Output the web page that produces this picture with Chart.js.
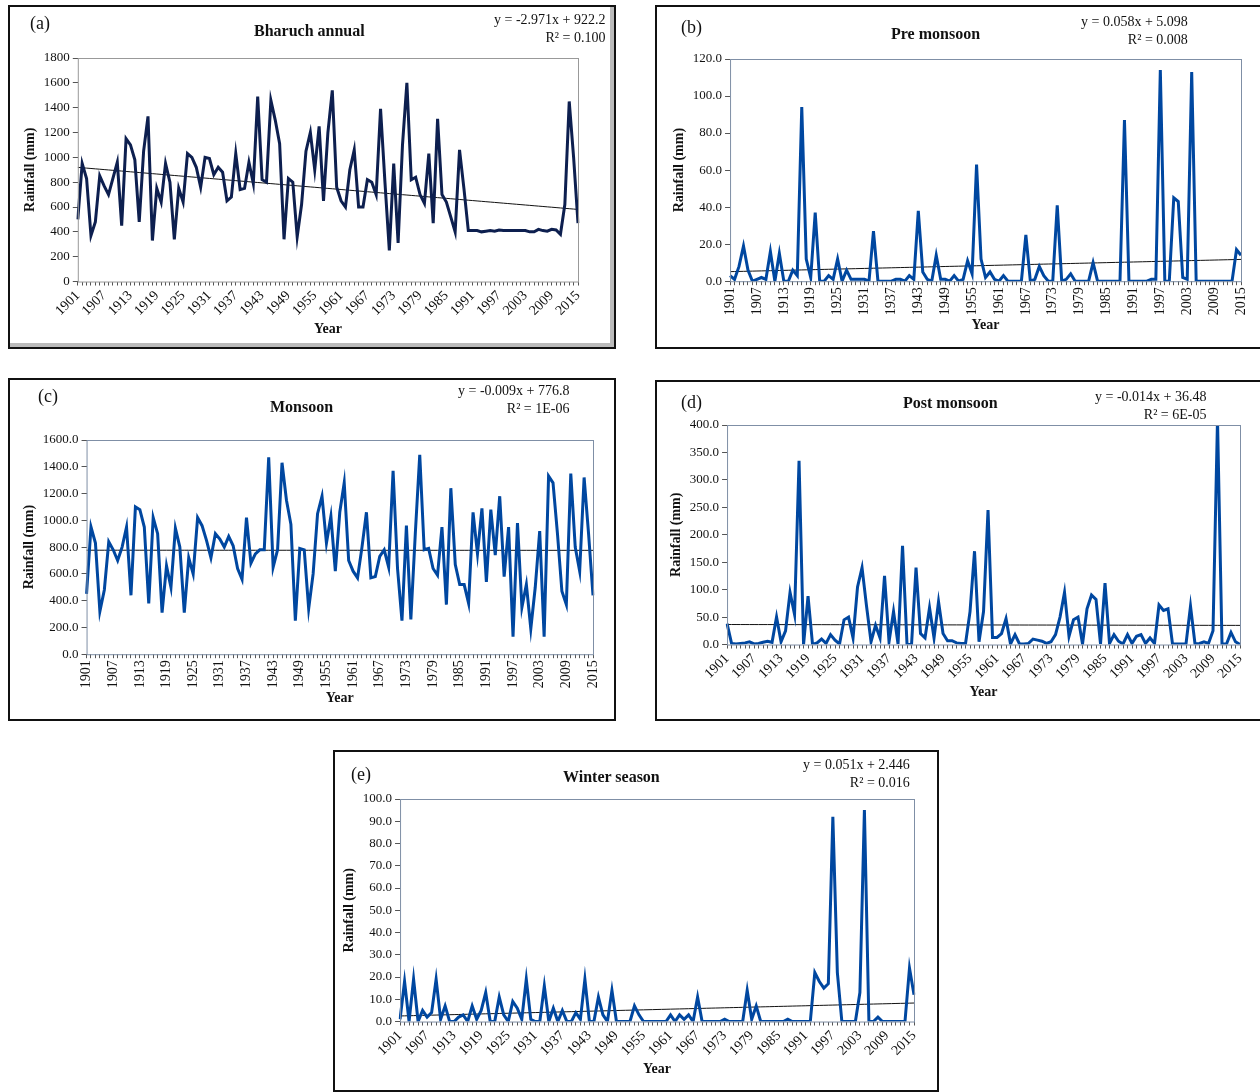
<!DOCTYPE html>
<html>
<head>
<meta charset="utf-8">
<script src="https://cdn.jsdelivr.net/npm/chart.js@4.4.1/dist/chart.umd.min.js"></script>
<style>
  body { margin: 0; background: #fff; font-family: "Liberation Serif", serif; }
  #page { position: relative; width: 1260px; height: 1092px; overflow: hidden; }
  .panel { position: absolute; border: 2px solid #111; box-sizing: border-box; background: #fff; }
  .panel canvas { position: absolute; left: 0; top: 0; }
  .txt { position: absolute; color: #111; white-space: nowrap; }
  .letter { font-size: 18px; }
  .title { font-size: 16px; font-weight: bold; }
  .eq { font-size: 14px; text-align: right; line-height: 18px; }
</style>
</head>
<body>
<div id="page"></div>
<script>
// Years 1901..2015
const years = [];
for (let y = 1901; y <= 2015; y++) years.push(y);

// Bharuch annual rainfall (mm)
const annual = [500,950,830,370,480,850,770,700,830,960,450,1150,1100,980,480,1050,1330,330,750,640,
  950,800,340,750,640,1030,1000,920,760,1000,990,860,920,880,650,680,1030,740,750,960,
  790,1490,820,800,1460,1300,1110,340,830,800,360,620,1050,1200,900,1250,650,1200,1540,760,
  650,600,900,1060,600,600,820,800,700,1390,800,250,950,310,1100,1600,820,840,700,630,
  1030,470,1310,700,640,520,400,1060,750,410,410,410,400,405,410,405,415,410,410,410,
  410,410,410,400,400,420,410,405,420,415,380,620,1450,1000,470];

// Pre monsoon rainfall (mm)
const preMonsoon = [3,1,8,19,6,0,1,2,1,16,0,15,0,0,6,3,94,12,2,37,
  0,0,3,1,12,0,6,1,1,1,1,0,27,0,0,0,0,1,1,0,
  3,1,38,5,1,0,14,1,1,0,3,0,1,11,4,63,12,2,5,1,
  0,3,0,0,0,0,25,0,1,8,3,0,0,41,0,1,4,0,0,0,
  0,10,0,0,0,0,0,0,87,0,0,0,0,0,1,1,114,0,0,45,
  43,2,1,113,0,0,0,0,0,0,0,0,0,17,14];

// Monsoon rainfall (mm)
const monsoon = [450,950,830,320,480,840,780,700,800,950,440,1100,1080,950,380,1020,900,310,660,500,
  940,800,310,720,600,1020,960,850,720,900,860,800,880,810,640,560,1020,680,750,780,
  780,1470,650,780,1430,1150,970,250,790,780,340,600,1050,1180,830,1030,620,1060,1280,700,
  620,570,800,1060,570,580,730,780,650,1370,640,250,960,260,900,1490,780,790,640,590,
  950,370,1240,670,520,520,380,1060,750,1090,540,1080,740,1180,580,950,130,980,350,520,
  190,500,920,130,1330,1280,900,470,370,1350,800,620,1320,900,440];

// Post monsoon rainfall (mm)
const postMonsoon = [38,2,1,2,3,5,1,2,4,6,4,50,5,25,95,55,335,0,88,0,
  3,10,2,18,8,1,45,50,12,105,140,70,5,35,12,125,5,60,1,180,
  0,0,140,20,12,67,12,78,20,7,7,3,2,2,60,170,5,60,245,13,
  13,20,47,1,18,1,1,2,10,8,6,2,5,18,50,95,15,45,50,1,
  65,90,82,1,112,2,18,6,1,18,2,15,18,2,12,2,72,62,65,1,
  1,1,1,70,1,2,5,2,25,410,1,1,22,5,0];

// Winter season rainfall (mm)
const winter = [1,18,0,19,0,5,2,4,19,1,7,0,0,2,3,0,7,1,5,13,
  0,0,11,3,0,9,6,1,19,1,0,0,16,0,6,0,5,0,0,4,
  1,19,0,0,11,3,0,14,0,0,0,0,7,3,0,0,0,0,0,0,
  3,0,3,1,3,0,11,0,0,0,0,0,1,0,0,0,0,14,1,7,
  0,0,0,0,0,0,1,0,0,0,0,0,22,18,15,17,92,22,0,0,
  0,0,13,95,0,0,2,0,0,0,0,0,0,24,12];

// Linear trend coefficients printed on each panel (slope, intercept)
const trendA = [-2.971, 922.2];
const trendB = [0.058, 5.098];
const trendC = [-0.009, 776.8];
const trendD = [-0.014, 36.48];
const trendE = [0.051, 2.446];

const page = document.getElementById('page');

const boxPlugin = {
  id: 'box',
  afterDraw(chart) {
    const a = chart.chartArea, c = chart.ctx;
    c.save();
    c.strokeStyle = chart.options.boxColor || '#7f8fa6';
    c.lineWidth = 1;
    c.strokeRect(a.left + 0.5, a.top + 0.5, a.right - a.left, a.bottom - a.top);
    c.restore();
  }
};

function addText(cls, x, y, html) {
  const d = document.createElement('div');
  d.className = 'txt ' + cls;
  d.style.left = x + 'px';
  d.style.top = y + 'px';
  d.innerHTML = html;
  page.appendChild(d);
  return d;
}

function makePanel(cfg) {
  const p = document.createElement('div');
  p.className = 'panel';
  p.style.left = cfg.box[0] + 'px';
  p.style.top = cfg.box[1] + 'px';
  p.style.width = cfg.box[2] + 'px';
  p.style.height = cfg.box[3] + 'px';
  if (cfg.shadow) p.style.boxShadow = 'inset -4px -4px 0 #bbb';
  page.appendChild(p);
  const cv = document.createElement('canvas');
  const w = cfg.box[2] - 4, h = cfg.box[3] - 4;
  cv.style.width = w + 'px';
  cv.style.height = h + 'px';
  p.appendChild(cv);

  const trend = years.map((y, i) => cfg.trend[0] * (i + 1) + cfg.trend[1]);
  const font = { family: '"Liberation Serif", serif', size: 13 };

  new Chart(cv, {
    type: 'line',
    data: {
      labels: years,
      datasets: [
        { data: cfg.values, borderColor: cfg.color, borderWidth: 3, pointRadius: 0, tension: 0 },
        { data: trend, borderColor: '#111', borderWidth: 1, pointRadius: 0 }
      ]
    },
    plugins: [boxPlugin],
    options: {
      responsive: false,
      animation: false,
      boxColor: cfg.boxColor,
      layout: { padding: cfg.pad },
      plugins: { legend: { display: false }, tooltip: { enabled: false } },
      scales: {
        x: {
          offset: false,
          grid: { drawOnChartArea: false, tickLength: 4, color: '#555' },
          border: { display: false },
          ticks: {
            autoSkip: false, maxRotation: cfg.rot, minRotation: cfg.rot,
            color: '#111', font: { family: font.family, size: 14 }, padding: 2,
            callback: function(v, i) { return (i % 6 === 0) ? years[i] : ''; }
          },
          title: { display: true, text: 'Year', color: '#111', padding: 0,
                   font: { family: font.family, size: 14, weight: 'bold' } }
        },
        y: {
          min: 0, max: cfg.max,
          grid: { drawOnChartArea: false, tickLength: 5, color: '#555' },
          border: { display: false },
          ticks: {
            stepSize: cfg.step, color: '#111', font: font,
            callback: v => cfg.dec ? v.toFixed(1) : v
          },
          title: { display: true, text: 'Rainfall (mm)', color: '#111', padding: 2,
                   font: { family: font.family, size: 14, weight: 'bold' } }
        }
      }
    }
  });

  addText('letter', cfg.box[0] + cfg.letter[0], cfg.box[1] + cfg.letter[1], cfg.letter[2]);
  addText('title', cfg.box[0] + cfg.title[0], cfg.box[1] + cfg.title[1], cfg.title[2]);
  addText('eq', cfg.box[0] + cfg.eq[0], cfg.box[1] + cfg.eq[1], cfg.eq[2]);
}

makePanel({ box: [8, 5, 608, 344], values: annual, trend: trendA, color: '#0d1f4f', boxColor: '#999',
  max: 1800, step: 200, dec: false, rot: 45, shadow: true,
  pad: { top: 51, right: 36, left: 10, bottom: 9 },
  letter: [22, 8, '(a)'], title: [246, 17, 'Bharuch annual'],
  eq: [486, 6, 'y = -2.971x + 922.2<br>R² = 0.100'] });

makePanel({ box: [655, 5, 607, 344], values: preMonsoon, trend: trendB, color: '#0047a0',
  max: 120, step: 20, dec: true, rot: 90,
  pad: { top: 52, right: 19, left: 12, bottom: 13 },
  letter: [26, 12, '(b)'], title: [236, 20, 'Pre monsoon'],
  eq: [426, 8, 'y = 0.058x + 5.098<br>R² = 0.008'] });

makePanel({ box: [8, 378, 608, 343], values: monsoon, trend: trendC, color: '#0047a0',
  max: 1600, step: 200, dec: true, rot: 90,
  pad: { top: 60, right: 21, left: 9, bottom: 12 },
  letter: [30, 8, '(c)'], title: [262, 20, 'Monsoon'],
  eq: [450, 4, 'y = -0.009x + 776.8<br>R² = 1E-06'] });

makePanel({ box: [655, 380, 607, 341], values: postMonsoon, trend: trendD, color: '#0047a0',
  max: 400, step: 50, dec: true, rot: 45,
  pad: { top: 43, right: 20, left: 9, bottom: 18 },
  letter: [26, 12, '(d)'], title: [248, 14, 'Post monsoon'],
  eq: [440, 8, 'y = -0.014x + 36.48<br>R² = 6E-05'] });

makePanel({ box: [333, 750, 606, 342], values: winter, trend: trendE, color: '#0047a0',
  max: 100, step: 10, dec: true, rot: 45,
  pad: { top: 47, right: 23, left: 4, bottom: 12 },
  letter: [18, 14, '(e)'], title: [230, 18, 'Winter season'],
  eq: [470, 6, 'y = 0.051x + 2.446<br>R² = 0.016'] });
</script>
</body>
</html>
